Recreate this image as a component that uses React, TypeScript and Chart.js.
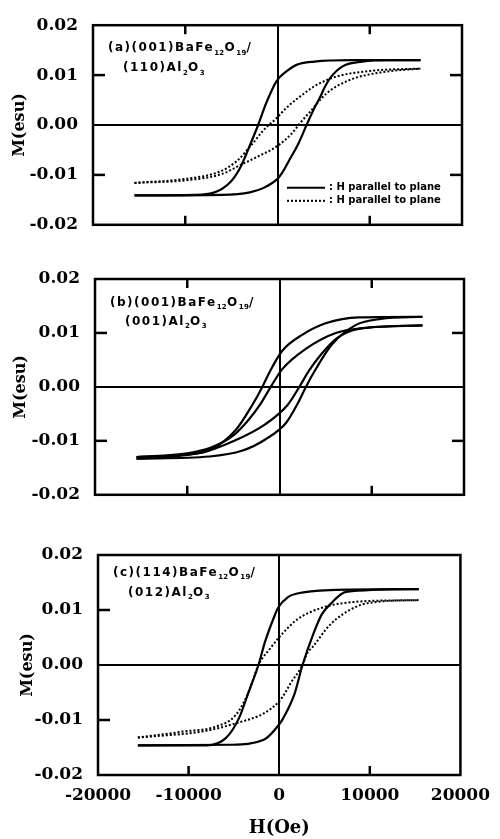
import React, { useEffect, useRef } from 'react';
import { Chart, registerables } from 'chart.js';

Chart.register(...registerables);

// ---- axis ticks & titles ----
const xTicks = [-20000, -10000, 0, 10000, 20000];
const yTicks = [-0.02, -0.01, 0, 0.01, 0.02];
const frameXTicks = [-10000, 10000];
const frameYTicks = [-0.01, 0.01];
const xTitle = 'H(Oe)';
const yTitle = 'M(esu)';
const legendLabels = ['H parallel to plane', 'H parallel to plane'];

// ---- panel (a) ----
const aSolidUpperH = [-15500, -9000, -7000, -5100, -4000, -3000, -2100, -1200, -100, 1000, 2000, 4000, 8000, 15500];
const aSolidUpperM = [-0.0141, -0.0140, -0.0136, -0.0114, -0.0084, -0.0041, 0.0, 0.0045, 0.0088, 0.0108, 0.0120, 0.0127, 0.0130, 0.0130];
const aSolidLowerH = [-15500, -6000, -3000, -1500, 0, 500, 1200, 2300, 3150, 4000, 4600, 5100, 5700, 7100, 9200, 12000, 15500];
const aSolidLowerM = [-0.0141, -0.0140, -0.0135, -0.0126, -0.0108, -0.0096, -0.0073, -0.0036, 0.0, 0.0034, 0.0055, 0.0075, 0.0094, 0.0118, 0.0127, 0.0130, 0.0130];
const aDotUpperH = [-15500, -10000, -6200, -4400, -2600, -1500, -100, 1000, 2800, 4200, 6400, 10400, 15500];
const aDotUpperM = [-0.0116, -0.0108, -0.0093, -0.0072, -0.0035, -0.0010, 0.0014, 0.0035, 0.0062, 0.0080, 0.0097, 0.0109, 0.0113];
const aDotLowerH = [-15500, -10000, -6000, -4000, -2000, 0, 1500, 2500, 3500, 5300, 7800, 11400, 15500];
const aDotLowerM = [-0.0116, -0.0111, -0.0098, -0.0080, -0.0062, -0.0042, -0.0018, 0.0005, 0.0026, 0.0063, 0.0090, 0.0106, 0.0113];

// ---- panel (b) ----
const bOuterUpperH = [-15500, -10000, -7300, -4700, -3000, -1860, -1000, 300, 2500, 5000, 8600, 15500];
const bOuterUpperM = [-0.0133, -0.0126, -0.0115, -0.0079, -0.0035, 0.0, 0.0030, 0.0067, 0.0097, 0.0118, 0.0129, 0.0130];
const bOuterLowerH = [-15500, -7600, -4000, -1500, 700, 2000, 2860, 4000, 5700, 8300, 11000, 15500];
const bOuterLowerM = [-0.0133, -0.0129, -0.0118, -0.0097, -0.0067, -0.0030, 0.0, 0.0035, 0.0079, 0.0115, 0.0126, 0.0130];
const bInnerUpperH = [-15500, -10000, -7500, -5000, -3300, -2000, -950, 300, 2800, 6100, 9700, 15500];
const bInnerUpperM = [-0.0130, -0.0123, -0.0113, -0.0090, -0.0060, -0.0030, 0.0, 0.0033, 0.0070, 0.0100, 0.0110, 0.0114];
const bInnerLowerH = [-15500, -8500, -4900, -1600, 900, 2150, 3200, 4500, 6200, 8700, 15500];
const bInnerLowerM = [-0.0130, -0.0122, -0.0100, -0.0070, -0.0033, 0.0, 0.0030, 0.0060, 0.0090, 0.0108, 0.0114];

// ---- panel (c) ----
const cSolidUpperH = [-15600, -8000, -5900, -4450, -3370, -2290, -1570, -500, -130, 1000, 2000, 5600, 15400];
const cSolidUpperM = [-0.0146, -0.0146, -0.0133, -0.0097, -0.0049, 0.0, 0.0042, 0.0090, 0.0104, 0.0124, 0.0130, 0.0136, 0.0138];
const cSolidLowerH = [-15600, -5400, -1700, 0, 400, 1700, 2570, 3800, 4700, 5600, 7400, 15400];
const cSolidLowerM = [-0.0146, -0.0145, -0.0136, -0.0108, -0.0098, -0.0052, 0.0, 0.0058, 0.0092, 0.0110, 0.0133, 0.0138];
const cDotUpperH = [-15600, -10600, -7000, -4800, -3370, -2290, -1000, 240, 2000, 4900, 8500, 15400];
const cDotUpperM = [-0.0132, -0.0121, -0.0112, -0.0091, -0.0049, 0.0, 0.0030, 0.0055, 0.0083, 0.0105, 0.0115, 0.0118];
const cDotLowerH = [-15600, -8200, -4600, -1700, 0, 600, 1300, 2570, 3100, 3650, 5600, 8500, 10900, 15400];
const cDotLowerM = [-0.0132, -0.0120, -0.0105, -0.0088, -0.0066, -0.0052, -0.0032, 0.0, 0.0022, 0.0032, 0.0073, 0.0106, 0.0115, 0.0118];

// ---- panel labels ----
type Seg = [string, boolean];
const aLabel1: Seg[] = [['(a)(001)BaFe', false], ['12', true], ['O', false], ['19', true], ['/', false]];
const aLabel2: Seg[] = [['(110)Al', false], ['2', true], ['O', false], ['3', true]];
const bLabel1: Seg[] = [['(b)(001)BaFe', false], ['12', true], ['O', false], ['19', true], ['/', false]];
const bLabel2: Seg[] = [['(001)Al', false], ['2', true], ['O', false], ['3', true]];
const cLabel1: Seg[] = [['(c)(114)BaFe', false], ['12', true], ['O', false], ['19', true], ['/', false]];
const cLabel2: Seg[] = [['(012)Al', false], ['2', true], ['O', false], ['3', true]];

type Branch = { h: number[]; m: number[]; dotted: boolean; name: string };
type PanelDef = {
  top: number; height: number; left: number; right: number; plotTop: number; plotBottom: number;
  showX: boolean; legend: boolean; topTicks: boolean; rightTicks: boolean; titlePad: number;
  label1: Seg[]; label2: Seg[]; l1dy: number; l2dy: number;
  branches: Branch[];
};

const panels: PanelDef[] = [
  {
    top: 0, height: 250, left: 93, right: 462, plotTop: 12, plotBottom: 230,
    showX: false, legend: true, topTicks: true, rightTicks: true, titlePad: 10,
    label1: aLabel1, label2: aLabel2, l1dy: 23, l2dy: 43,
    branches: [
      { h: aSolidUpperH, m: aSolidUpperM, dotted: false, name: legendLabels[0] },
      { h: aSolidLowerH, m: aSolidLowerM, dotted: false, name: legendLabels[0] },
      { h: aDotUpperH, m: aDotUpperM, dotted: true, name: legendLabels[1] },
      { h: aDotLowerH, m: aDotLowerM, dotted: true, name: legendLabels[1] },
    ],
  },
  {
    top: 250, height: 270, left: 95, right: 464, plotTop: 29, plotBottom: 250,
    showX: false, legend: false, topTicks: true, rightTicks: true, titlePad: 11,
    label1: bLabel1, label2: bLabel2, l1dy: 24, l2dy: 43,
    branches: [
      { h: bOuterUpperH, m: bOuterUpperM, dotted: false, name: legendLabels[0] },
      { h: bOuterLowerH, m: bOuterLowerM, dotted: false, name: legendLabels[0] },
      { h: bInnerUpperH, m: bInnerUpperM, dotted: false, name: legendLabels[1] },
      { h: bInnerLowerH, m: bInnerLowerM, dotted: false, name: legendLabels[1] },
    ],
  },
  {
    top: 520, height: 319, left: 98, right: 469, plotTop: 35, plotBottom: 255,
    showX: true, legend: false, topTicks: false, rightTicks: false, titlePad: 18,
    label1: cLabel1, label2: cLabel2, l1dy: 18, l2dy: 38,
    branches: [
      { h: cSolidUpperH, m: cSolidUpperM, dotted: false, name: legendLabels[0] },
      { h: cSolidLowerH, m: cSolidLowerM, dotted: false, name: legendLabels[0] },
      { h: cDotUpperH, m: cDotUpperM, dotted: true, name: legendLabels[1] },
      { h: cDotLowerH, m: cDotLowerM, dotted: true, name: legendLabels[1] },
    ],
  },
];

function drawRich(ctx: CanvasRenderingContext2D, segs: Seg[], x: number, y: number, size: number, spacing: number) {
  let cx = x;
  for (const [t, sub] of segs) {
    const s = sub ? Math.round(size * 0.62) : size;
    ctx.font = `bold ${s}px "DejaVu Sans"`;
    (ctx as any).letterSpacing = `${sub ? 0.3 : spacing}px`;
    ctx.fillText(t, cx, sub ? y + size * 0.38 : y);
    cx += ctx.measureText(t).width;
  }
}

const framePlugin = {
  id: 'frame',
  afterDraw(chart: any, _args: any, opts: any) {
    const { ctx, chartArea: a } = chart;
    const x = chart.scales.x;
    const y = chart.scales.y;
    ctx.save();
    ctx.strokeStyle = '#000';
    ctx.lineWidth = 2.5;
    ctx.setLineDash([]);
    ctx.strokeRect(a.left, a.top, a.right - a.left, a.bottom - a.top);
    const L = 9;
    const seg = (x1: number, y1: number, x2: number, y2: number) => {
      ctx.beginPath(); ctx.moveTo(x1, y1); ctx.lineTo(x2, y2); ctx.stroke();
    };
    for (const v of frameXTicks) {
      const px = x.getPixelForValue(v);
      seg(px, a.bottom, px, a.bottom - L);
      if (opts.topTicks) seg(px, a.top, px, a.top + L);
    }
    for (const v of frameYTicks) {
      const py = y.getPixelForValue(v);
      seg(a.left, py, a.left + L + 3, py);
      if (opts.rightTicks) seg(a.right, py, a.right - L - 3, py);
    }
    // panel label
    ctx.fillStyle = '#000';
    ctx.textBaseline = 'middle';
    ctx.textAlign = 'left';
    drawRich(ctx, opts.label1, a.left + 15, a.top + opts.l1dy, 12, 1.5);
    drawRich(ctx, opts.label2, a.left + 30, a.top + opts.l2dy, 12, 1.5);
    // legend
    if (opts.legend) {
      const rows = [{ dash: [] as number[], y: a.bottom - 37, t: legendLabels[0] }, { dash: [2, 2], y: a.bottom - 24, t: legendLabels[1] }];
      for (const r of rows) {
        ctx.lineWidth = 2;
        ctx.setLineDash(r.dash);
        seg(a.right - 175, r.y, a.right - 137, r.y);
        ctx.setLineDash([]);
        ctx.font = 'bold 10px "DejaVu Sans"';
        (ctx as any).letterSpacing = '0px';
        ctx.fillText(': ' + r.t, a.right - 133, r.y);
      }
    }
    ctx.restore();
  },
};

function makeConfig(p: PanelDef): any {
  const zeroColor = (c: any) => (c.tick && c.tick.value === 0 ? '#000' : 'rgba(0,0,0,0)');
  return {
    type: 'scatter',
    data: {
      datasets: p.branches.map((b) => ({
        label: b.name,
        data: b.h.map((h, i) => ({ x: h, y: b.m[i] })),
        showLine: true,
        borderColor: '#000',
        backgroundColor: '#000',
        borderWidth: b.dotted ? 2 : 2.2,
        borderDash: b.dotted ? [2, 2] : [],
        pointRadius: 0,
        cubicInterpolationMode: 'monotone',
        fill: false,
      })),
    },
    options: {
      animation: false,
      responsive: false,
      devicePixelRatio: 1,
      events: [],
      layout: { padding: { left: 0, top: p.plotTop, right: 500 - p.right, bottom: 0 } },
      plugins: {
        legend: { display: false },
        tooltip: { enabled: false },
        frame: {
          topTicks: p.topTicks, rightTicks: p.rightTicks, legend: p.legend,
          label1: p.label1, label2: p.label2, l1dy: p.l1dy, l2dy: p.l2dy,
        },
      },
      scales: {
        x: {
          type: 'linear',
          min: -20000,
          max: 20000,
          afterBuildTicks: (s: any) => { s.ticks = xTicks.map((v) => ({ value: v })); },
          afterFit: (s: any) => { s.height = p.height - p.plotBottom; },
          border: { display: false },
          grid: { color: zeroColor, lineWidth: 2, drawTicks: false },
          ticks: {
            display: p.showX,
            padding: 10,
            maxRotation: 0,
            autoSkip: false,
            color: '#000',
            font: { family: '"DejaVu Serif"', weight: 'bold', size: 17 },
            callback: (v: any) => String(v),
          },
          title: {
            display: p.showX,
            text: xTitle,
            color: '#000',
            padding: { top: 0, bottom: 0 },
            font: { family: '"DejaVu Serif"', weight: 'bold', size: 18 },
          },
        },
        y: {
          type: 'linear',
          min: -0.02,
          max: 0.02,
          afterBuildTicks: (s: any) => { s.ticks = yTicks.map((v) => ({ value: v })); },
          afterFit: (s: any) => { s.width = p.left; },
          border: { display: false },
          grid: { color: zeroColor, lineWidth: 2, drawTicks: false },
          ticks: {
            padding: 15,
            autoSkip: false,
            color: '#000',
            font: { family: '"DejaVu Serif"', weight: 'bold', size: 17 },
            callback: (v: any) => Number(v).toFixed(2),
          },
          title: {
            display: true,
            text: yTitle,
            color: '#000',
            padding: { top: p.titlePad, bottom: 0 },
            font: { family: '"DejaVu Serif"', weight: 'bold', size: 16 },
          },
        },
      },
    },
    plugins: [framePlugin],
  };
}

function Panel({ p }: { p: PanelDef }) {
  const ref = useRef<HTMLCanvasElement>(null);
  useEffect(() => {
    const chart = new Chart(ref.current as HTMLCanvasElement, makeConfig(p));
    return () => chart.destroy();
  }, [p]);
  return (
    <canvas
      ref={ref}
      width={500}
      height={p.height}
      style={{ position: 'absolute', left: 0, top: p.top, width: 500, height: p.height }}
    />
  );
}

export default function App() {
  return (
    <div style={{ position: 'absolute', left: 0, top: 0, width: 500, height: 839, background: '#fff', overflow: 'hidden' }}>
      {panels.map((p, i) => (
        <Panel key={i} p={p} />
      ))}
    </div>
  );
}
